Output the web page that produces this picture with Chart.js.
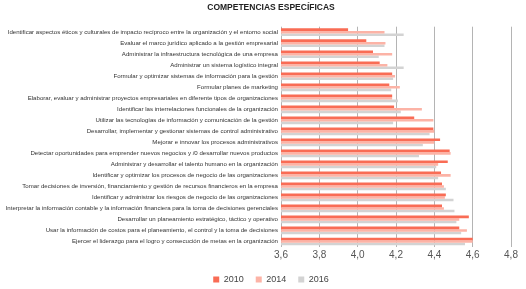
<!DOCTYPE html>
<html>
<head>
<meta charset="utf-8">
<script src="https://cdn.jsdelivr.net/npm/chart.js@4.4.1/dist/chart.umd.min.js"></script>
<style>
  html, body { margin: 0; padding: 0; background: #fff; overflow: hidden; }
  #wrap { width: 526px; height: 289px; }
</style>
</head>
<body>
<div id="wrap"><canvas id="compChart" width="526" height="289"></canvas></div>
<script>
// competencias especificas - grouped horizontal bars, 3 survey years
const categories = [
    'Identificar aspectos éticos y culturales de impacto recíproco entre la organización y el entorno social',
    'Evaluar el marco jurídico aplicado a la gestión empresarial',
    'Administrar la infraestructura tecnológica de una empresa',
    'Administrar un sistema logístico integral',
    'Formular y optimizar sistemas de información para la gestión',
    'Formular planes de marketing',
    'Elaborar, evaluar y administrar proyectos empresariales en diferente tipos de organizaciones',
    'Identificar las interrelaciones funcionales de la organización',
    'Utilizar las tecnologías de información y comunicación de la gestión',
    'Desarrollar, implementar y gestionar sistemas de control administrativo',
    'Mejorar e innovar los procesos administrativos',
    'Detectar oportunidades para emprender nuevos negocios y /0 desarrollar nuevos productos',
    'Administrar y desarrollar el talento humano en la organización',
    'Identificar y optimizar los procesos de negocio de las organizaciones',
    'Tomar decisiones de inversión, financiamiento y gestión de recursos financieros en la empresa',
    'Identificar y administrar los riesgos de negocio de las organizaciones',
    'Interpretar la información contable y la información financiera para la toma de decisiones gerenciales',
    'Desarrollar un planeamiento estratégico, táctico y operativo',
    'Usar la información de costos para el planeamiento, el control y la toma de decisiones',
    'Ejercer el liderazgo para el logro y consecución de metas en la organización'
];

const years = ['2010', '2014', '2016'];

const values2010 = [3.95, 4.045, 4.08, 4.115, 4.18, 4.165, 4.18, 4.19, 4.295, 4.395,
                    4.43, 4.48, 4.47, 4.435, 4.44, 4.46, 4.44, 4.58, 4.53, 4.60];
const values2014 = [4.14, 4.145, 4.18, 4.155, 4.195, 4.22, 4.18, 4.335, 4.395, 4.40,
                    4.40, 4.485, 4.42, 4.485, 4.45, 4.455, 4.45, 4.53, 4.57, 4.60];
const values2016 = [4.24, 4.14, 4.11, 4.24, 4.185, 4.175, 4.21, 4.225, 4.185, 4.375,
                    4.34, 4.32, 4.41, 4.42, 4.46, 4.50, 4.505, 4.515, 4.54, 4.56];

const xTickLabels = ['3,6', '3,8', '4,0', '4,2', '4,4', '4,6', '4,8'];

const FONT = "'Liberation Sans', Arial, sans-serif";
const colors = ['#f96c55', '#fcb3a6', '#d3d3d3'];

const datasets = [values2010, values2014, values2016].map((vals, i) => ({
    label: years[i],
    data: vals,
    backgroundColor: colors[i],
    borderWidth: 0
}));

const ctx = document.getElementById('compChart');
const chart = new Chart(ctx, {
    type: 'bar',
    data: { labels: categories, datasets: datasets },
    options: {
        indexAxis: 'y',
        responsive: false,
        animation: false,
        layout: { padding: { left: 31, right: 15, top: 0, bottom: -5 } },
        datasets: {
            bar: { categoryPercentage: 0.7, barPercentage: 1.0 }
        },
        scales: {
            x: {
                min: 3.6,
                max: 4.8,
                ticks: {
                    stepSize: 0.2,
                    color: '#555',
                    padding: 2,
                    font: { family: FONT, size: 10 },
                    callback: (v, i) => xTickLabels[i]
                },
                grid: { color: '#b4b4b4', drawTicks: false, lineWidth: 1 },
                border: { display: false }
            },
            y: {
                afterFit: (scale) => {
                    scale.width = 250;
                    // long labels run past the padding, don't clip them to the axis box
                    scale._computeLabelArea = () => undefined;
                },
                ticks: {
                    autoSkip: false,
                    color: '#333',
                    padding: 3,
                    font: { family: FONT, size: 6.1 }
                },
                grid: { display: false, drawTicks: false },
                border: { display: false }
            }
        },
        plugins: {
            title: {
                display: true,
                text: 'COMPETENCIAS ESPECÍFICAS',
                color: '#222',
                font: { family: FONT, size: 8.5, weight: 'bold' },
                padding: { top: 2.5, bottom: 14 }
            },
            legend: {
                position: 'bottom',
                labels: {
                    boxWidth: 6,
                    boxHeight: 6,
                    padding: 12,
                    color: '#444',
                    font: { family: FONT, size: 9 }
                }
            },
            tooltip: { enabled: false }
        }
    }
});
</script>
</body>
</html>
